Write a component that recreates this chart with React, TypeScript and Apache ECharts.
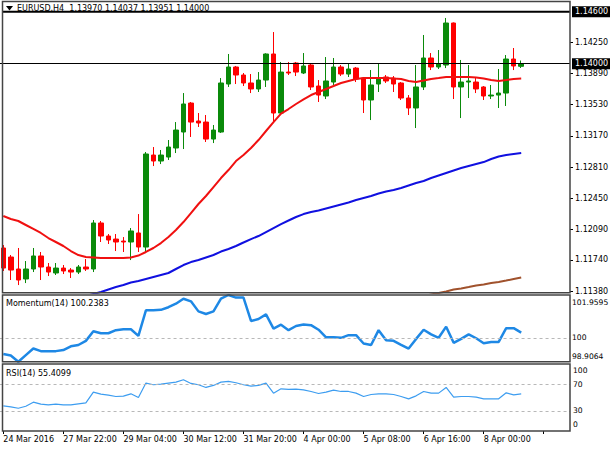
import React, { useEffect, useRef } from 'react';
import * as echarts from 'echarts';

const SYMBOL = 'EURUSD,H4';
const TIME_LABELS = ['24 Mar 2016', '27 Mar 22:00', '29 Mar 04:00', '30 Mar 12:00', '31 Mar 20:00', '4 Apr 00:00', '5 Apr 08:00', '6 Apr 16:00', '8 Apr 00:00'];
const LABEL_EVERY = 8;
const SLOTS = 76;
const PRICE_TICKS = [1.1138, 1.1174, 1.1209, 1.1245, 1.1281, 1.1317, 1.1353, 1.1389, 1.1425];
const PRICE_MIN = 1.11362;
const PRICE_MAX = 1.14711;
const RESISTANCE = 1.146;

// [open, close, low, high]
const OHLC = [
  [1.11877, 1.11646, 1.11612, 1.11911],
  [1.11773, 1.11623, 1.11508, 1.11796],
  [1.11635, 1.11508, 1.11450, 1.11877],
  [1.11520, 1.11635, 1.11473, 1.11727],
  [1.11635, 1.11785, 1.11600, 1.11877],
  [1.11785, 1.11658, 1.11508, 1.11831],
  [1.11658, 1.11600, 1.11554, 1.11704],
  [1.11589, 1.11646, 1.11566, 1.11704],
  [1.11646, 1.11612, 1.11577, 1.11681],
  [1.11623, 1.11600, 1.11531, 1.11646],
  [1.11600, 1.11658, 1.11577, 1.11681],
  [1.11658, 1.11635, 1.11612, 1.11750],
  [1.11635, 1.12165, 1.11600, 1.12199],
  [1.12165, 1.12015, 1.11946, 1.12188],
  [1.12015, 1.11969, 1.11923, 1.12038],
  [1.11980, 1.11946, 1.11842, 1.12038],
  [1.11957, 1.11946, 1.11831, 1.12003],
  [1.11946, 1.12073, 1.11738, 1.12107],
  [1.12050, 1.11888, 1.11831, 1.12268],
  [1.11888, 1.12960, 1.11819, 1.12983],
  [1.12948, 1.12879, 1.12821, 1.13040],
  [1.12879, 1.12948, 1.12844, 1.13006],
  [1.12925, 1.13040, 1.12891, 1.13121],
  [1.13029, 1.13236, 1.12971, 1.13328],
  [1.13213, 1.13536, 1.13017, 1.13662],
  [1.13547, 1.13328, 1.13156, 1.13559],
  [1.13340, 1.13317, 1.13271, 1.13432],
  [1.13328, 1.13132, 1.13098, 1.13409],
  [1.13132, 1.13236, 1.13086, 1.13294],
  [1.13213, 1.13778, 1.13202, 1.13835],
  [1.13766, 1.13962, 1.13732, 1.14112],
  [1.13962, 1.13870, 1.13766, 1.13974],
  [1.13870, 1.13778, 1.13743, 1.13893],
  [1.13778, 1.13709, 1.13662, 1.13881],
  [1.13709, 1.13812, 1.13674, 1.13904],
  [1.13812, 1.14112, 1.13732, 1.14120],
  [1.14112, 1.13432, 1.13328, 1.14365],
  [1.13432, 1.13904, 1.13409, 1.14020],
  [1.13904, 1.13893, 1.13870, 1.14020],
  [1.14008, 1.13904, 1.13858, 1.14020],
  [1.13893, 1.13974, 1.13881, 1.14123],
  [1.13985, 1.13732, 1.13697, 1.14008],
  [1.13743, 1.13639, 1.13559, 1.13812],
  [1.13628, 1.13801, 1.13593, 1.14077],
  [1.13789, 1.13962, 1.13755, 1.14066],
  [1.13962, 1.13881, 1.13858, 1.13985],
  [1.13881, 1.13939, 1.13847, 1.14008],
  [1.13950, 1.13824, 1.13789, 1.13962],
  [1.13835, 1.13582, 1.13432, 1.13847],
  [1.13582, 1.13755, 1.13351, 1.13927],
  [1.13766, 1.13835, 1.13674, 1.14008],
  [1.13847, 1.13801, 1.13778, 1.13870],
  [1.13835, 1.13766, 1.13674, 1.13858],
  [1.13778, 1.13605, 1.13582, 1.13789],
  [1.13605, 1.13490, 1.13409, 1.13639],
  [1.13490, 1.13732, 1.13259, 1.13985],
  [1.13732, 1.14066, 1.13697, 1.14331],
  [1.14066, 1.13962, 1.13927, 1.14123],
  [1.13962, 1.13997, 1.13939, 1.14158],
  [1.13985, 1.14469, 1.13950, 1.14527],
  [1.14469, 1.13732, 1.13593, 1.14475],
  [1.13732, 1.13789, 1.13374, 1.14043],
  [1.13789, 1.13801, 1.13605, 1.13985],
  [1.13789, 1.13709, 1.13662, 1.13835],
  [1.13732, 1.13628, 1.13582, 1.13743],
  [1.13628, 1.13639, 1.13593, 1.13755],
  [1.13639, 1.13662, 1.13490, 1.13939],
  [1.13662, 1.14054, 1.13513, 1.14100],
  [1.14054, 1.13974, 1.13927, 1.14181],
  [1.13970, 1.14000, 1.13951, 1.14037],
];

const MA_FAST = [
  1.12245, 1.12211, 1.12188, 1.12142, 1.12096, 1.12050, 1.11992, 1.11946, 1.11900, 1.11842,
  1.11796, 1.11773, 1.11767, 1.11761, 1.11761, 1.11761, 1.11761, 1.11767, 1.11790, 1.11831,
  1.11877, 1.11934, 1.12003, 1.12084, 1.12176, 1.12280, 1.12384, 1.12476, 1.12579, 1.12683,
  1.12775, 1.12879, 1.12948, 1.13029, 1.13121, 1.13225, 1.13328, 1.13426, 1.13478, 1.13536,
  1.13588, 1.13639, 1.13674, 1.13709, 1.13743, 1.13778, 1.13801, 1.13824, 1.13835, 1.13835,
  1.13835, 1.13835, 1.13829, 1.13824, 1.13801, 1.13789, 1.13806, 1.13824, 1.13835, 1.13847,
  1.13847, 1.13847, 1.13847, 1.13841, 1.13829, 1.13812, 1.13801, 1.13812, 1.13824, 1.13829,
];

const MA_MID = [
  null, null, null, null, null, null, null, null, null,
  1.11266, 1.11295, 1.11324, 1.11347, 1.11370, 1.11399, 1.11427, 1.11450, 1.11479, 1.11497,
  1.11520, 1.11543, 1.11566, 1.11589, 1.11635, 1.11681, 1.11715, 1.11738, 1.11767, 1.11796,
  1.11836, 1.11865, 1.11900, 1.11940, 1.11980, 1.12015, 1.12061, 1.12107, 1.12153, 1.12194,
  1.12234, 1.12268, 1.12291, 1.12309, 1.12332, 1.12355, 1.12378, 1.12401, 1.12430, 1.12453,
  1.12476, 1.12505, 1.12528, 1.12545, 1.12568, 1.12597, 1.12626, 1.12649, 1.12683, 1.12712,
  1.12741, 1.12770, 1.12798, 1.12821, 1.12844, 1.12867, 1.12902, 1.12931, 1.12948, 1.12960, 1.12971,
];

const MA_SLOW = [
  null, null, null, null, null, null, null, null, null, null,
  null, null, null, null, null, null, null, null, null, null,
  null, null, null, null, null, null, null, null, null, null,
  null, null, null, null, null, null, null, null, null, null,
  null, null, null, null, null, null, null, null, null, null,
  null, null, null, null, null, null,
  1.11324, 1.11341, 1.11358, 1.11376, 1.11399, 1.11410, 1.11427, 1.11445, 1.11456, 1.11473,
  1.11485, 1.11502, 1.11520, 1.11537,
];

const MOMENTUM = [
  99.26, 99.19, 98.9064, 99.21, 99.51, 99.39, 99.39, 99.39, 99.44, 99.61,
  99.67, 99.86, 100.30, 100.21, 100.21, 100.35, 100.39, 100.39, 100.09, 101.26,
  101.26, 101.28, 101.40, 101.56, 101.79, 101.67, 101.21, 101.09, 101.21, 101.79,
  101.9595, 101.84, 101.84, 100.77, 100.86, 101.07, 100.42, 100.60, 100.35, 100.54,
  100.61, 100.58, 100.37, 100.02, 100.02, 100.00, 100.12, 100.12, 99.74, 99.67,
  100.35, 99.89, 99.86, 99.68, 99.51, 99.95, 100.37, 100.16, 100.00, 100.51,
  99.77, 99.95, 100.16, 99.98, 99.75, 99.81, 99.81, 100.44, 100.44, 100.2383,
];
const MOM_LEVEL = 100;

const RSI = [
  37.5, 36, 34, 37, 43, 40, 39, 40, 39, 39,
  40.5, 42, 58, 55, 53.5, 51.5, 52, 55.5, 50, 71.5,
  69, 70, 71.5, 73, 76.5, 71, 69, 65, 68, 73,
  74, 72, 69, 67, 68, 71.5, 56.5, 63, 62, 62.5,
  61.5, 59, 56, 58, 61, 59, 59, 56.5, 51.5, 54.5,
  55.5, 55.5, 54.5, 51.5, 48, 52.5, 59, 56.5, 56.5, 65,
  50.5, 51.5, 51.5, 50.5, 48, 48, 48, 57, 54, 55.4099,
];
const RSI_LEVELS = [70, 30];
const RSI_TICKS = [100, 70, 30, 0];

const FONT = '"DejaVu Sans", sans-serif';
const FS = 8;
const FS_SUB = 7.6;

export default function App() {
  const ref = useRef<HTMLDivElement>(null);

  useEffect(() => {
    document.body.style.margin = '0';
    const chart = echarts.init(ref.current!, null, { renderer: 'svg' });

    const cats = Array.from({ length: SLOTS }, (_, i) => String(i));
    const last = OHLC[OHLC.length - 1];
    const lastClose = last[1];
    const momMin = Math.min(...MOMENTUM);
    const momMax = Math.max(...MOMENTUM);
    const momTicks = [momMax, MOM_LEVEL, momMin];

    const gridLeft = -0.45;
    const gridWidth = 570.45;
    const panelLeft = 2.5;
    const panelRight = 570;

    const baseText = { fontFamily: FONT, fontSize: FS, color: '#000' };
    const subText = { fontFamily: FONT, fontSize: FS_SUB, color: '#000' };

    const hiddenX = (gi: number) => ({
      type: 'category', gridIndex: gi, data: cats, boundaryGap: true, show: false,
    });

    const baseGraphics: any[] = [
      { type: 'rect', z: 100, silent: true, shape: { x: panelLeft, y: 1.5, width: panelRight - panelLeft, height: 291.2 }, style: { fill: 'none', stroke: '#444', lineWidth: 1.5 } },
      { type: 'rect', z: 100, silent: true, shape: { x: panelLeft, y: 295, width: panelRight - panelLeft, height: 66.7 }, style: { fill: 'none', stroke: '#444', lineWidth: 1.5 } },
      { type: 'rect', z: 100, silent: true, shape: { x: panelLeft, y: 364, width: panelRight - panelLeft, height: 67 }, style: { fill: 'none', stroke: '#444', lineWidth: 1.5 } },
      { type: 'polygon', z: 101, silent: true, shape: { points: [[6, 6], [13, 6], [9.5, 10.5]] }, style: { fill: '#000' } },
      {
        type: 'text', z: 101, silent: true, x: 17, y: 8.5,
        style: {
          text: `${SYMBOL}  ${last[0].toFixed(5)} ${last[3].toFixed(5)} ${last[2].toFixed(5)} ${last[1].toFixed(5)}`,
          fill: '#000', fontFamily: FONT, fontSize: FS, verticalAlign: 'middle', align: 'left',
        },
      },
      {
        type: 'text', z: 101, silent: true, x: 6, y: 303,
        style: { text: `Momentum(14) ${MOMENTUM[MOMENTUM.length - 1]}`, fill: '#000', fontFamily: FONT, fontSize: FS, verticalAlign: 'middle', align: 'left' },
      },
      {
        type: 'text', z: 101, silent: true, x: 6, y: 373,
        style: { text: `RSI(14) ${RSI[RSI.length - 1]}`, fill: '#000', fontFamily: FONT, fontSize: FS, verticalAlign: 'middle', align: 'left' },
      },
    ];

    const option: any = {
      animation: false,
      backgroundColor: '#fff',
      grid: [
        { left: gridLeft, width: gridWidth, top: 2, height: 290.7, outerBoundsMode: 'none', show: false },
        { left: gridLeft, width: gridWidth, top: 295, height: 66.7, outerBoundsMode: 'none', show: false },
        { left: gridLeft, width: gridWidth, top: 364, height: 67, outerBoundsMode: 'none', show: false },
      ],
      xAxis: [
        hiddenX(0),
        hiddenX(1),
        {
          type: 'category', gridIndex: 2, data: cats, boundaryGap: true,
          axisLine: { show: false },
          axisTick: { show: true, alignWithLabel: true, interval: LABEL_EVERY - 1, length: 3, lineStyle: { color: '#000' } },
          axisLabel: {
            ...baseText, interval: LABEL_EVERY - 1, align: 'left', margin: 4,
            formatter: (v: string) => {
              const i = Number(v);
              return i % LABEL_EVERY === 0 ? (TIME_LABELS[i / LABEL_EVERY] ?? '') : '';
            },
          },
          splitLine: { show: false },
        },
      ],
      yAxis: [
        {
          type: 'value', gridIndex: 0, position: 'right', min: PRICE_MIN, max: PRICE_MAX,
          axisLine: { show: false }, splitLine: { show: false },
          axisTick: { show: true, customValues: PRICE_TICKS, length: 3, lineStyle: { color: '#000' } },
          axisLabel: { ...baseText, customValues: PRICE_TICKS, margin: 5, formatter: (v: number) => v.toFixed(5) },
        },
        {
          type: 'value', gridIndex: 1, position: 'right', min: momMin, max: momMax,
          axisLine: { show: false }, splitLine: { show: false },
          axisTick: { show: false },
          axisLabel: {
            ...subText, customValues: momTicks, margin: 2,
            formatter: (v: number) => (v === momMax ? `{t|${v}}` : v === momMin ? `{b|${v}}` : `{m|${v}}`),
            rich: { t: { padding: [15, 0, 0, 0] }, b: { padding: [0, 0, 11, 0] }, m: {} },
          },
        },
        {
          type: 'value', gridIndex: 2, position: 'right', min: 0, max: 100,
          axisLine: { show: false }, splitLine: { show: false },
          axisTick: { show: false },
          axisLabel: {
            ...subText, customValues: RSI_TICKS, margin: 3,
            formatter: (v: number) => (v === 100 ? `{t|${v}}` : v === 0 ? `{b|${v}}` : `{m|${v}}`),
            rich: { t: { padding: [12, 0, 0, 0] }, b: { padding: [0, 0, 13, 0] }, m: {} },
          },
        },
      ],
      series: [
        {
          type: 'candlestick', xAxisIndex: 0, yAxisIndex: 0, data: OHLC, barWidth: 5,
          itemStyle: { color: '#0a8a0a', color0: '#ff0000', borderColor: '#0a8a0a', borderColor0: '#ff0000', borderWidth: 1 },
          z: 2,
          markLine: {
            silent: true, symbol: ['none', 'none'], animation: false,
            lineStyle: { color: '#000', type: 'solid', width: 1 },
            label: {
              show: true, position: 'end', distance: 2, backgroundColor: '#000', color: '#fff',
              fontFamily: FONT, fontSize: FS, padding: [2, 3, 1, 3],
              formatter: (p: any) => Number(p.value).toFixed(5),
            },
            data: [{ yAxis: lastClose }],
          },
        },
        { type: 'line', xAxisIndex: 0, yAxisIndex: 0, data: MA_FAST, symbol: 'none', z: 3, lineStyle: { color: '#f01010', width: 2 } },
        { type: 'line', xAxisIndex: 0, yAxisIndex: 0, data: MA_MID, symbol: 'none', z: 3, lineStyle: { color: '#1010e0', width: 2 } },
        { type: 'line', xAxisIndex: 0, yAxisIndex: 0, data: MA_SLOW, symbol: 'none', z: 3, lineStyle: { color: '#a0522d', width: 2 } },
        {
          type: 'line', xAxisIndex: 1, yAxisIndex: 1, data: MOMENTUM, symbol: 'none',
          lineStyle: { color: '#1e88e5', width: 2.5 },
          markLine: {
            silent: true, symbol: ['none', 'none'], animation: false, label: { show: false },
            lineStyle: { color: '#b8b8b8', type: [3, 3], width: 1 },
            data: [{ yAxis: MOM_LEVEL }],
          },
        },
        {
          type: 'line', xAxisIndex: 2, yAxisIndex: 2, data: RSI, symbol: 'none',
          lineStyle: { color: '#3d9df0', width: 1.2 },
          markLine: {
            silent: true, symbol: ['none', 'none'], animation: false, label: { show: false },
            lineStyle: { color: '#b8b8b8', type: [3, 3], width: 1 },
            data: RSI_LEVELS.map((v) => ({ yAxis: v })),
          },
        },
      ],
      graphic: baseGraphics,
    };

    chart.setOption(option);

    // resistance level drawn through the price axis scale
    const yRes = chart.convertToPixel({ yAxisIndex: 0 }, RESISTANCE) as number;
    chart.setOption({
      graphic: [
        ...baseGraphics,
        { type: 'line', z: 99, silent: true, shape: { x1: panelLeft, y1: yRes, x2: panelRight, y2: yRes }, style: { stroke: '#000', lineWidth: 2 } },
        {
          type: 'text', z: 101, silent: true, x: panelRight + 2, y: yRes,
          style: {
            text: RESISTANCE.toFixed(5), fill: '#fff', backgroundColor: '#000', padding: [2, 3, 1, 3],
            fontFamily: FONT, fontSize: FS, verticalAlign: 'middle', align: 'left',
          },
        },
      ],
    });

    return () => chart.dispose();
  }, []);

  return <div ref={ref} style={{ position: 'absolute', left: 0, top: 0, width: 610, height: 450 }} />;
}
